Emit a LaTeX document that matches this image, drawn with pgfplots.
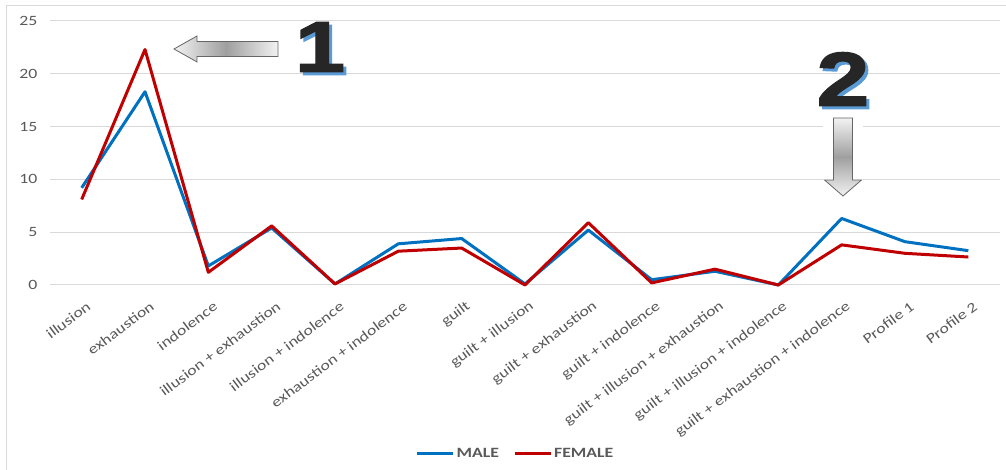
\documentclass[border=0pt]{standalone}
\usepackage{fontspec}
\setmainfont{Carlito}[FakeStretch=1.25]
\newfontfamily\bigfont{Liberation Sans}[FakeStretch=1.25, FakeBold=2]
\usepackage{pgfplots}
\pgfplotsset{compat=1.18}
\definecolor{male}{HTML}{0070C0}
\definecolor{female}{HTML}{C00000}
\definecolor{txt}{HTML}{595959}
\definecolor{gridc}{HTML}{D9D9D9}
\definecolor{shadowblue}{HTML}{5B9BD5}
\pgfplotstableread{
x male female
0 9.2 8.1
1 18.3 22.3
2 1.8 1.2
3 5.4 5.6
4 0.1 0.1
5 3.9 3.2
6 4.4 3.5
7 0.1 0.0
8 5.2 5.9
9 0.5 0.2
10 1.3 1.5
11 0.0 0.0
12 6.3 3.8
13 4.1 3.0
14 3.25 2.65
}\datatable
\begin{document}
\begin{tikzpicture}[x=1pt,y=1pt]
\useasboundingbox (0,0) rectangle (1006,470);
\draw[gridc, line width=1pt] (6.5,0) -- (6.5,464) -- (1006,464);
\begin{axis}[
  at={(50pt,185pt)}, anchor=south west,
  scale only axis, width=950pt, height=264pt,
  xmin=-0.5, xmax=14.5, ymin=0, ymax=25,
  xtick={0,...,14},
  xticklabels={illusion,exhaustion,indolence,illusion + exhaustion,illusion + indolence,exhaustion + indolence,guilt,guilt + illusion,guilt + exhaustion,guilt + indolence,guilt + illusion + exhaustion,guilt + illusion + indolence,guilt + exhaustion + indolence,Profile 1,Profile 2},
  ytick={0,5,...,25},
  ymajorgrids, grid style={gridc, line width=1pt},
  axis line style={draw=none}, tick style={draw=none},
  clip=false,
  font=\fontsize{14.2}{16}\selectfont,
  tick label style={text=txt},
  /pgf/number format/assume math mode=true,
  xticklabel style={rotate=37, anchor=east, inner sep=1pt, yshift=-20pt, xshift=-5pt},
  yticklabel style={anchor=east, xshift=-9pt},
  legend style={at={(0.49,-0.64)}, anchor=center, draw=none, fill=none, text=txt,
    font=\bfseries\fontsize{14.2}{16}\selectfont,
    /tikz/every even column/.append style={column sep=12pt}},
  legend columns=2,
  legend image code/.code={\draw[#1, line width=3pt] (0pt,0pt) -- (36pt,0pt);},
]
\addplot[male, line width=3pt, line join=round] table[x=x, y=male] {\datatable};
\addlegendentry{MALE}
\addplot[female, line width=3pt, line join=round] table[x=x, y=female] {\datatable};
\addlegendentry{FEMALE}
\end{axis}
% annotation 1
\shade[left color=gray!10, right color=gray!10, middle color=gray!75, draw=gray!80!black, line width=0.8pt]
  (174,421) -- (197,434) -- (197,428.5) -- (278,428.5) -- (278,413.5) -- (197,413.5) -- (197,408) -- cycle;
\node[font=\bigfont\bfseries\fontsize{72}{72}\selectfont, text=shadowblue] at (323,420) {1};
\node[font=\bigfont\bfseries\fontsize{72}{72}\selectfont, text=black!85] at (320,423) {1};
% annotation 2
\fill[white] (823,270) rectangle (863,356);
\shade[top color=gray!10, bottom color=gray!10, middle color=gray!75, draw=gray!80!black, line width=0.8pt]
  (843,274) -- (824.5,290) -- (833.5,290) -- (833.5,352) -- (852.5,352) -- (852.5,290) -- (861.5,290) -- cycle;
\node[font=\bigfont\bfseries\fontsize{76}{76}\selectfont, text=shadowblue] at (846,388) {2};
\node[font=\bigfont\bfseries\fontsize{76}{76}\selectfont, text=black!85] at (843,391) {2};
\end{tikzpicture}
\end{document}
